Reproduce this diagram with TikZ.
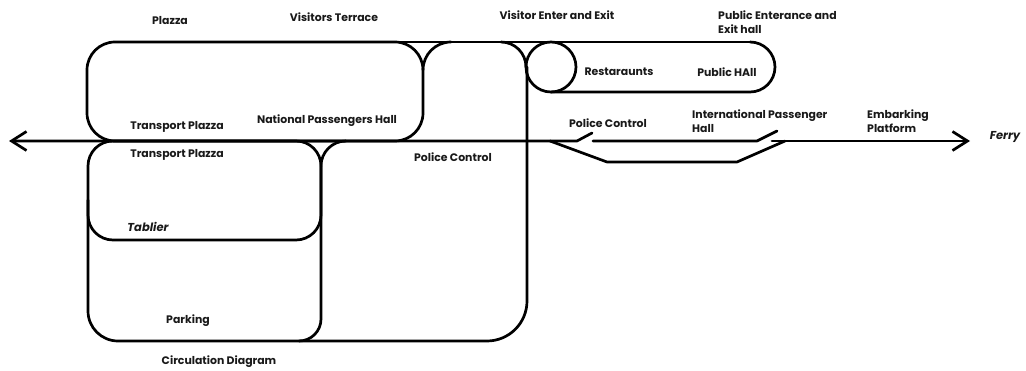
\documentclass[tikz,border=0pt]{standalone}
\usepackage{fontspec}
\setmainfont{Poppins}
\usetikzlibrary{arrows.meta}
\tikzset{mybarb/.tip={Straight Barb[length=15pt,width=19pt]}}
\begin{document}
\begin{tikzpicture}[x=1pt,y=-1pt,
  wall/.style={line width=2.7pt, line join=round, line cap=round},
  lab/.style={font=\fontsize{10.9}{13.5}\selectfont\bfseries, inner sep=0pt, text=black!90},
  labl/.style={lab, anchor=west, align=left}]
\useasboundingbox[fill=white] (0,0) rectangle (1026,371);

% named coordinates
\coordinate (Lend) at (9,141);
\coordinate (Rend) at (970,141);
\coordinate (g1a) at (577,141);
\coordinate (g1b) at (592,133);
\coordinate (g1c) at (593,141);
\coordinate (g2a) at (757,141);
\coordinate (g2b) at (777,131);
\coordinate (g2c) at (772,141);
\coordinate (b0) at (550,141);
\coordinate (b1) at (607,162);
\coordinate (b2) at (737,162);
\coordinate (b3) at (785,141);

% main axis with gates
\draw[wall, {mybarb}-] (Lend) -- (g1a) -- (g1b);
\draw[wall] (g1c) -- (g2a) -- (g2b);
\draw[wall, -{mybarb}] (g2c) -- (Rend);
\draw[wall] (b0) -- (b1) -- (b2) -- (b3);

% top line
\draw[wall] (115,42) -- (750,42);

% Plazza / National Passengers Hall
\draw[wall, rounded corners=28pt] (87,42) rectangle (423,141);
\draw[wall] (423,70) arc[start angle=180, end angle=90, radius=28pt];

% visitor region left arc
\draw[wall] (501,42) arc[start angle=90, end angle=0, radius=25pt];

% Restaurants circle and Public Hall
\draw[wall] (551,67) circle[radius=25pt];
\draw[wall] (551,92) -- (750,92) arc[start angle=-90, end angle=90, radius=25pt];

% Tablier
\draw[wall, rounded corners=25pt] (88,141) rectangle (321,240);
% V right arc
\draw[wall] (321,166) arc[start angle=180, end angle=90, radius=25pt];
% shared vertical
\draw[wall] (321,166) -- (321,319) arc[start angle=0, end angle=-90, radius=22pt];
% Parking left / bottom + police control right side
\draw[wall] (88,200) -- (88,311) arc[start angle=180, end angle=270, radius=30pt]
  -- (487,341) arc[start angle=270, end angle=360, radius=40pt] -- (527,67);

% labels
\node[lab] (plazza) at (170,21) {Plazza};
\node[lab] (terrace) at (334,17) {Visitors Terrace};
\node[lab] (vee) at (557,15) {Visitor Enter and Exit};
\node[labl] (peh) at (718,22) {Public Enterance and\\Exit hall};
\node[lab] (rest) at (619,72) {Restaraunts};
\node[lab] (phall) at (727,72) {Public HAll};
\node[lab] (tp1) at (177,127) {Transport Plazza};
\node[lab] (nph) at (327,121) {National Passengers Hall};
\node[lab] (tp2) at (177,155) {Transport Plazza};
\node[lab] (pc1) at (453,157) {Police Control};
\node[lab, font=\fontsize{11.5}{13.5}\selectfont\bfseries\itshape] (tab) at (148,227) {Tablier};
\node[lab] (park) at (188,321) {Parking};
\node[lab] (circ) at (219,362) {Circulation Diagram};
\node[lab] (pc2) at (608,123) {Police Control};
\node[labl] (iph) at (692,121) {International Passenger\\Hall};
\node[labl] (emb) at (867,121) {Embarking\\Platform};
\node[lab, font=\fontsize{11.5}{13.5}\selectfont\bfseries\itshape] (ferry) at (1005,137) {Ferry};
\end{tikzpicture}
\end{document}
